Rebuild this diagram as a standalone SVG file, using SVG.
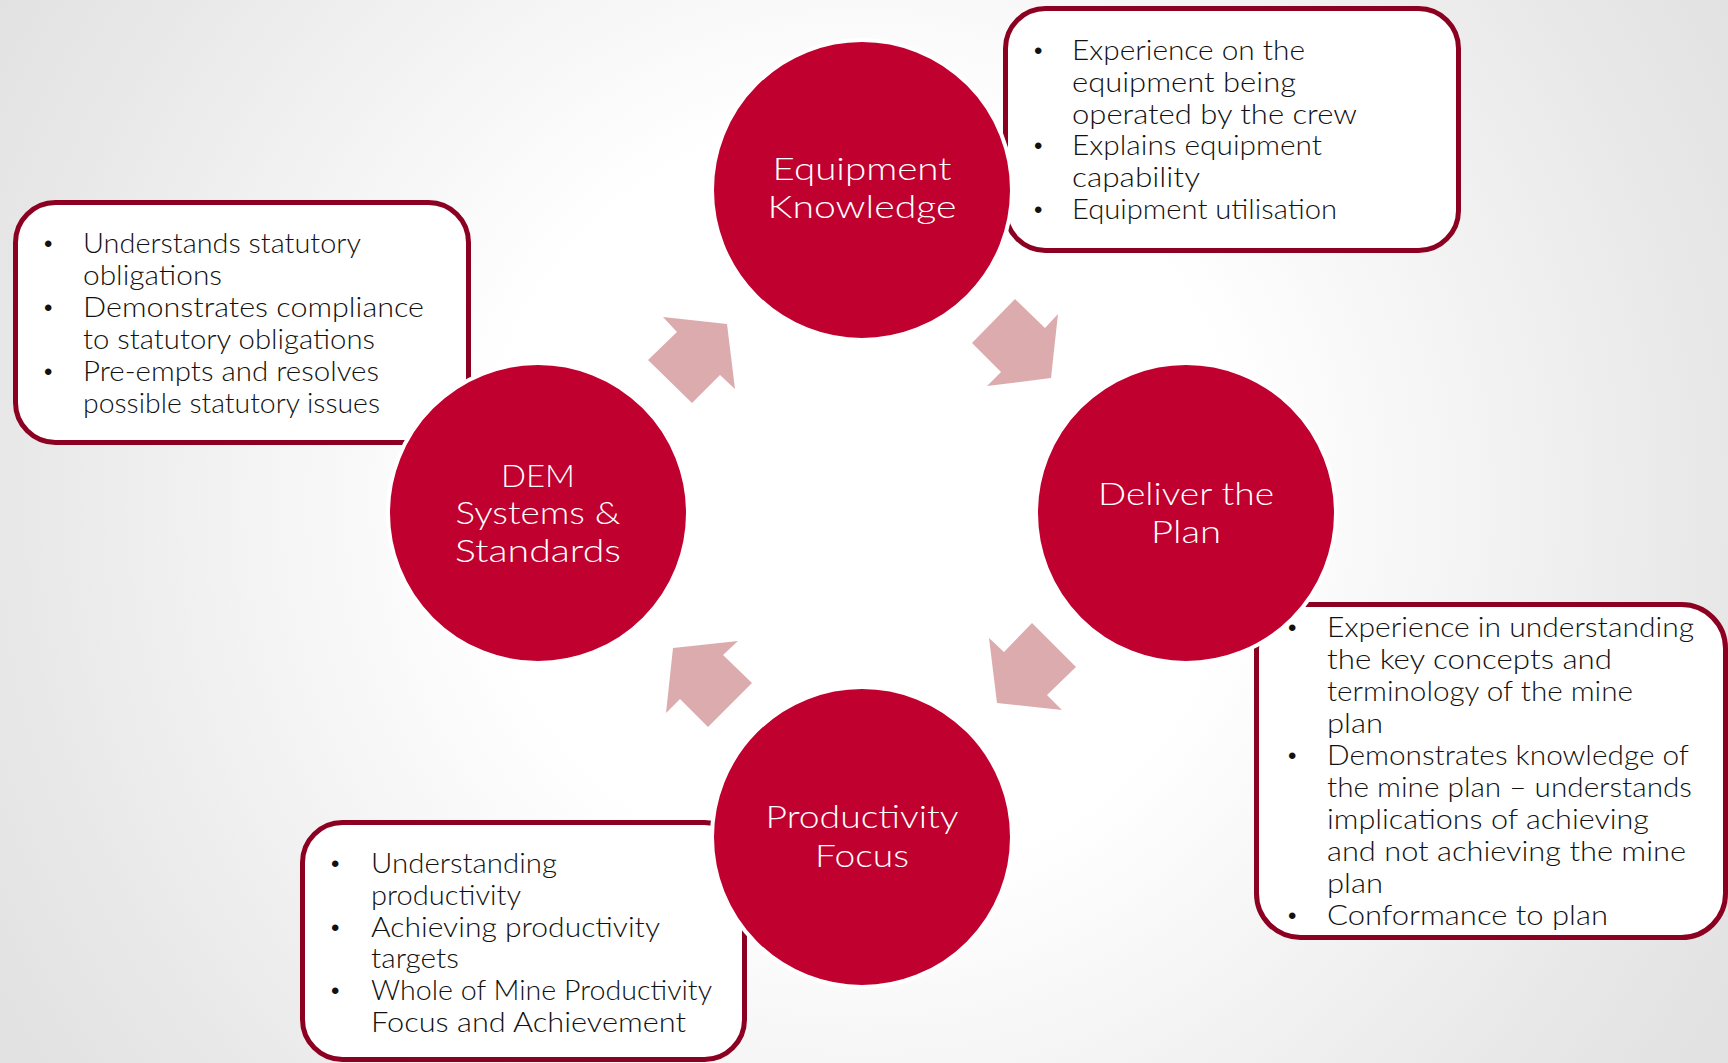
<svg xmlns="http://www.w3.org/2000/svg" width="1728" height="1063" viewBox="0 0 1728 1063">
  <defs>
    <radialGradient id="bg" gradientUnits="userSpaceOnUse" cx="862" cy="500" r="1000">
      <stop offset="0" stop-color="#ffffff"/>
      <stop offset="0.38" stop-color="#ffffff"/>
      <stop offset="0.85" stop-color="#e8e8e8"/>
      <stop offset="1" stop-color="#e2e2e2"/>
    </radialGradient>
    <style>
      .box { fill: #ffffff; stroke: #8c0021; stroke-width: 5; }
      .hub { fill: #c0002f; stroke: #ffffff; stroke-width: 4; }
      .hub-label { font-family: Lato, "Liberation Sans", sans-serif; font-weight: 300; font-size: 32px; fill: #ffffff; text-anchor: middle; }
      .item { font-family: Lato, "Liberation Sans", sans-serif; font-weight: 300; font-size: 27px; fill: #111111; }
      .dot { font-family: "Liberation Sans", sans-serif; font-size: 24px; fill: #111111; }
      .flow { fill: #dcabad; }
    </style>
  </defs>

  <rect width="1728" height="1063" fill="url(#bg)"/>

  <!-- detail panels sit behind the hubs -->
  <g id="panel-equipment">
    <rect class="box" x="1005.5" y="8.5" width="453" height="242" rx="40"/>
    <text class="dot" x="1034" y="59">•</text>
    <text class="dot" x="1034" y="154">•</text>
    <text class="dot" x="1034" y="218">•</text>
    <text class="item" x="1072" y="60" textLength="233" lengthAdjust="spacingAndGlyphs">Experience on the</text>
    <text class="item" x="1072" y="92" textLength="224" lengthAdjust="spacingAndGlyphs">equipment being</text>
    <text class="item" x="1072" y="124" textLength="285" lengthAdjust="spacingAndGlyphs">operated by the crew</text>
    <text class="item" x="1072" y="155" textLength="250" lengthAdjust="spacingAndGlyphs">Explains equipment</text>
    <text class="item" x="1072" y="187" textLength="128" lengthAdjust="spacingAndGlyphs">capability</text>
    <text class="item" x="1072" y="219" textLength="265" lengthAdjust="spacingAndGlyphs">Equipment utilisation</text>
  </g>

  <g id="panel-systems">
    <rect class="box" x="15.5" y="202.5" width="453" height="240" rx="40"/>
    <text class="dot" x="44" y="252">•</text>
    <text class="dot" x="44" y="316">•</text>
    <text class="dot" x="44" y="380">•</text>
    <text class="item" x="83" y="253" textLength="278" lengthAdjust="spacingAndGlyphs">Understands statutory</text>
    <text class="item" x="83" y="285" textLength="139" lengthAdjust="spacingAndGlyphs">obligations</text>
    <text class="item" x="83" y="317" textLength="341" lengthAdjust="spacingAndGlyphs">Demonstrates compliance</text>
    <text class="item" x="83" y="349" textLength="292" lengthAdjust="spacingAndGlyphs">to statutory obligations</text>
    <text class="item" x="83" y="381" textLength="296" lengthAdjust="spacingAndGlyphs">Pre-empts and resolves</text>
    <text class="item" x="83" y="413" textLength="297" lengthAdjust="spacingAndGlyphs">possible statutory issues</text>
  </g>

  <g id="panel-plan">
    <rect class="box" x="1256.5" y="604.5" width="469" height="333" rx="44"/>
    <text class="dot" x="1288" y="636">•</text>
    <text class="dot" x="1288" y="764">•</text>
    <text class="dot" x="1288" y="924">•</text>
    <text class="item" x="1327" y="637" textLength="367" lengthAdjust="spacingAndGlyphs">Experience in understanding</text>
    <text class="item" x="1327" y="669" textLength="285" lengthAdjust="spacingAndGlyphs">the key concepts and</text>
    <text class="item" x="1327" y="701" textLength="306" lengthAdjust="spacingAndGlyphs">terminology of the mine</text>
    <text class="item" x="1327" y="733" textLength="56" lengthAdjust="spacingAndGlyphs">plan</text>
    <text class="item" x="1327" y="765" textLength="362" lengthAdjust="spacingAndGlyphs">Demonstrates knowledge of</text>
    <text class="item" x="1327" y="797" textLength="365" lengthAdjust="spacingAndGlyphs">the mine plan – understands</text>
    <text class="item" x="1327" y="829" textLength="322" lengthAdjust="spacingAndGlyphs">implications of achieving</text>
    <text class="item" x="1327" y="861" textLength="359" lengthAdjust="spacingAndGlyphs">and not achieving the mine</text>
    <text class="item" x="1327" y="893" textLength="56" lengthAdjust="spacingAndGlyphs">plan</text>
    <text class="item" x="1327" y="925" textLength="281" lengthAdjust="spacingAndGlyphs">Conformance to plan</text>
  </g>

  <g id="panel-productivity">
    <rect class="box" x="302.5" y="822.5" width="442" height="237" rx="40"/>
    <text class="dot" x="331" y="872">•</text>
    <text class="dot" x="331" y="936">•</text>
    <text class="dot" x="331" y="999">•</text>
    <text class="item" x="371" y="873" textLength="186" lengthAdjust="spacingAndGlyphs">Understanding</text>
    <text class="item" x="371" y="905" textLength="150" lengthAdjust="spacingAndGlyphs">productivity</text>
    <text class="item" x="371" y="937" textLength="289" lengthAdjust="spacingAndGlyphs">Achieving productivity</text>
    <text class="item" x="371" y="968" textLength="88" lengthAdjust="spacingAndGlyphs">targets</text>
    <text class="item" x="371" y="1000" textLength="341" lengthAdjust="spacingAndGlyphs">Whole of Mine Productivity</text>
    <text class="item" x="371" y="1032" textLength="315" lengthAdjust="spacingAndGlyphs">Focus and Achievement</text>
  </g>

  <!-- cycle arrows between hubs -->
  <g id="connectors">
    <polygon class="flow" points="663,317 727,324 735,389 720,375 692,403 648,360 677,332"/>
    <polygon class="flow" points="1015,299 1045,328 1058,314 1051,378 987,386 1001,372 972,343"/>
    <polygon class="flow" points="1032,623 1076,667 1047,695 1062,710 997,703 989,638 1004,652"/>
    <polygon class="flow" points="738,641 673,648 666,713 680,699 708,727 752,683 723,655"/>
  </g>

  <g id="hub-equipment">
    <circle class="hub" cx="862" cy="190" r="150"/>
    <text class="hub-label" x="862" y="180" textLength="179" lengthAdjust="spacingAndGlyphs">Equipment</text>
    <text class="hub-label" x="862" y="218" textLength="189" lengthAdjust="spacingAndGlyphs">Knowledge</text>
  </g>

  <g id="hub-plan">
    <circle class="hub" cx="1186" cy="513" r="150"/>
    <text class="hub-label" x="1186" y="505" textLength="176" lengthAdjust="spacingAndGlyphs">Deliver the</text>
    <text class="hub-label" x="1186" y="543" textLength="70" lengthAdjust="spacingAndGlyphs">Plan</text>
  </g>

  <g id="hub-productivity">
    <circle class="hub" cx="862" cy="837" r="150"/>
    <text class="hub-label" x="862" y="828" textLength="193" lengthAdjust="spacingAndGlyphs">Productivity</text>
    <text class="hub-label" x="862" y="867" textLength="94" lengthAdjust="spacingAndGlyphs">Focus</text>
  </g>

  <g id="hub-systems">
    <circle class="hub" cx="538" cy="513" r="150"/>
    <text class="hub-label" x="538" y="487" textLength="74" lengthAdjust="spacingAndGlyphs">DEM</text>
    <text class="hub-label" x="538" y="524" textLength="165" lengthAdjust="spacingAndGlyphs">Systems &amp;</text>
    <text class="hub-label" x="538" y="562" textLength="166" lengthAdjust="spacingAndGlyphs">Standards</text>
  </g>
</svg>
